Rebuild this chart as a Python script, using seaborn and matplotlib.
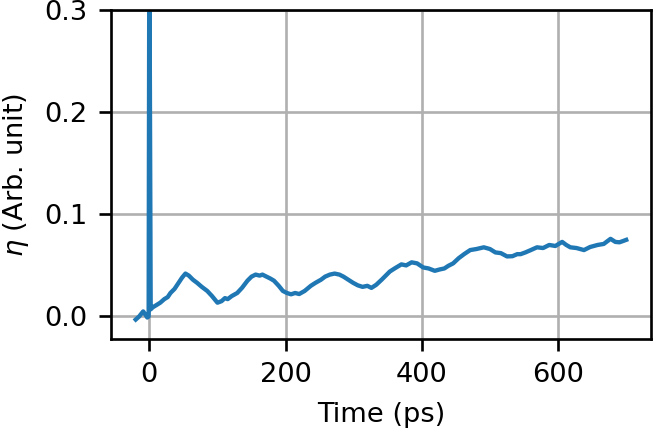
import seaborn as sns
import matplotlib
matplotlib.use('Agg')
import matplotlib.pyplot as plt
import pandas as pd

# values
time_ps = [-20, -15, -9, -6, -3, -1, 0, 2, 5, 10, 16, 22, 27, 31, 37, 43, 48, 53, 58,
           64, 70, 77, 85, 92, 100, 106, 111, 115, 121, 129, 136, 144, 150, 156, 162, 166,
           172, 178, 183, 190, 196, 202, 208, 214, 220, 228, 237, 244, 252, 258, 265, 272,
           279, 285, 292, 299, 306, 313, 320, 326, 333, 341, 347, 353, 360, 370, 377, 385,
           393, 402, 410, 419, 426, 433, 439, 446, 454, 462, 471, 480, 491, 500, 508, 516,
           525, 533, 540, 545, 552, 560, 569, 578, 587, 596, 606, 612, 618, 627, 638, 647,
           658, 667, 677, 684, 690, 696, 700]
eta = [-0.003, 0.000, 0.005, 0.002, -0.001, 0.000, 0.380, 0.007, 0.009, 0.011, 0.0135, 0.017,
       0.019, 0.023, 0.027, 0.033, 0.038, 0.042, 0.040, 0.036, 0.033, 0.029, 0.025, 0.020,
       0.0135, 0.015, 0.018, 0.017, 0.020, 0.023, 0.028, 0.035, 0.039, 0.041, 0.040, 0.041,
       0.039, 0.037, 0.035, 0.030, 0.025, 0.023, 0.0217, 0.023, 0.022, 0.025, 0.030, 0.033,
       0.036, 0.039, 0.041, 0.042, 0.041, 0.039, 0.036, 0.033, 0.0305, 0.029, 0.030, 0.028,
       0.031, 0.036, 0.040, 0.044, 0.047, 0.051, 0.050, 0.053, 0.052, 0.048, 0.047, 0.0447,
       0.046, 0.047, 0.0496, 0.052, 0.057, 0.061, 0.065, 0.066, 0.0677, 0.066, 0.0627, 0.062,
       0.0588, 0.059, 0.061, 0.061, 0.0627, 0.065, 0.0677, 0.067, 0.070, 0.069, 0.073, 0.070,
       0.0677, 0.067, 0.065, 0.068, 0.070, 0.071, 0.076, 0.073, 0.0726, 0.074, 0.075]

df = pd.DataFrame({'Time': time_ps, 'eta': eta})

plt.rcParams['font.size'] = 8.2
fig = plt.figure(figsize=(654 / 240, 431 / 240), dpi=240)
ax = fig.add_axes([0.170, 0.2135, 0.825, 0.7635])
sns.lineplot(x='Time', y='eta', data=df, sort=False, estimator=None, color='#1f77b4',
             linewidth=1.3, ax=ax)
ax.set_ylim(-0.022, 0.3)
ax.set_yticks([0.0, 0.1, 0.2, 0.3])
ax.set_xticks([0, 200, 400, 600])
ax.grid(True)
ax.set_xlabel('Time (ps)')
ax.set_ylabel(r'$\eta$ (Arb. unit)')
fig.savefig('out.png', dpi=240)
